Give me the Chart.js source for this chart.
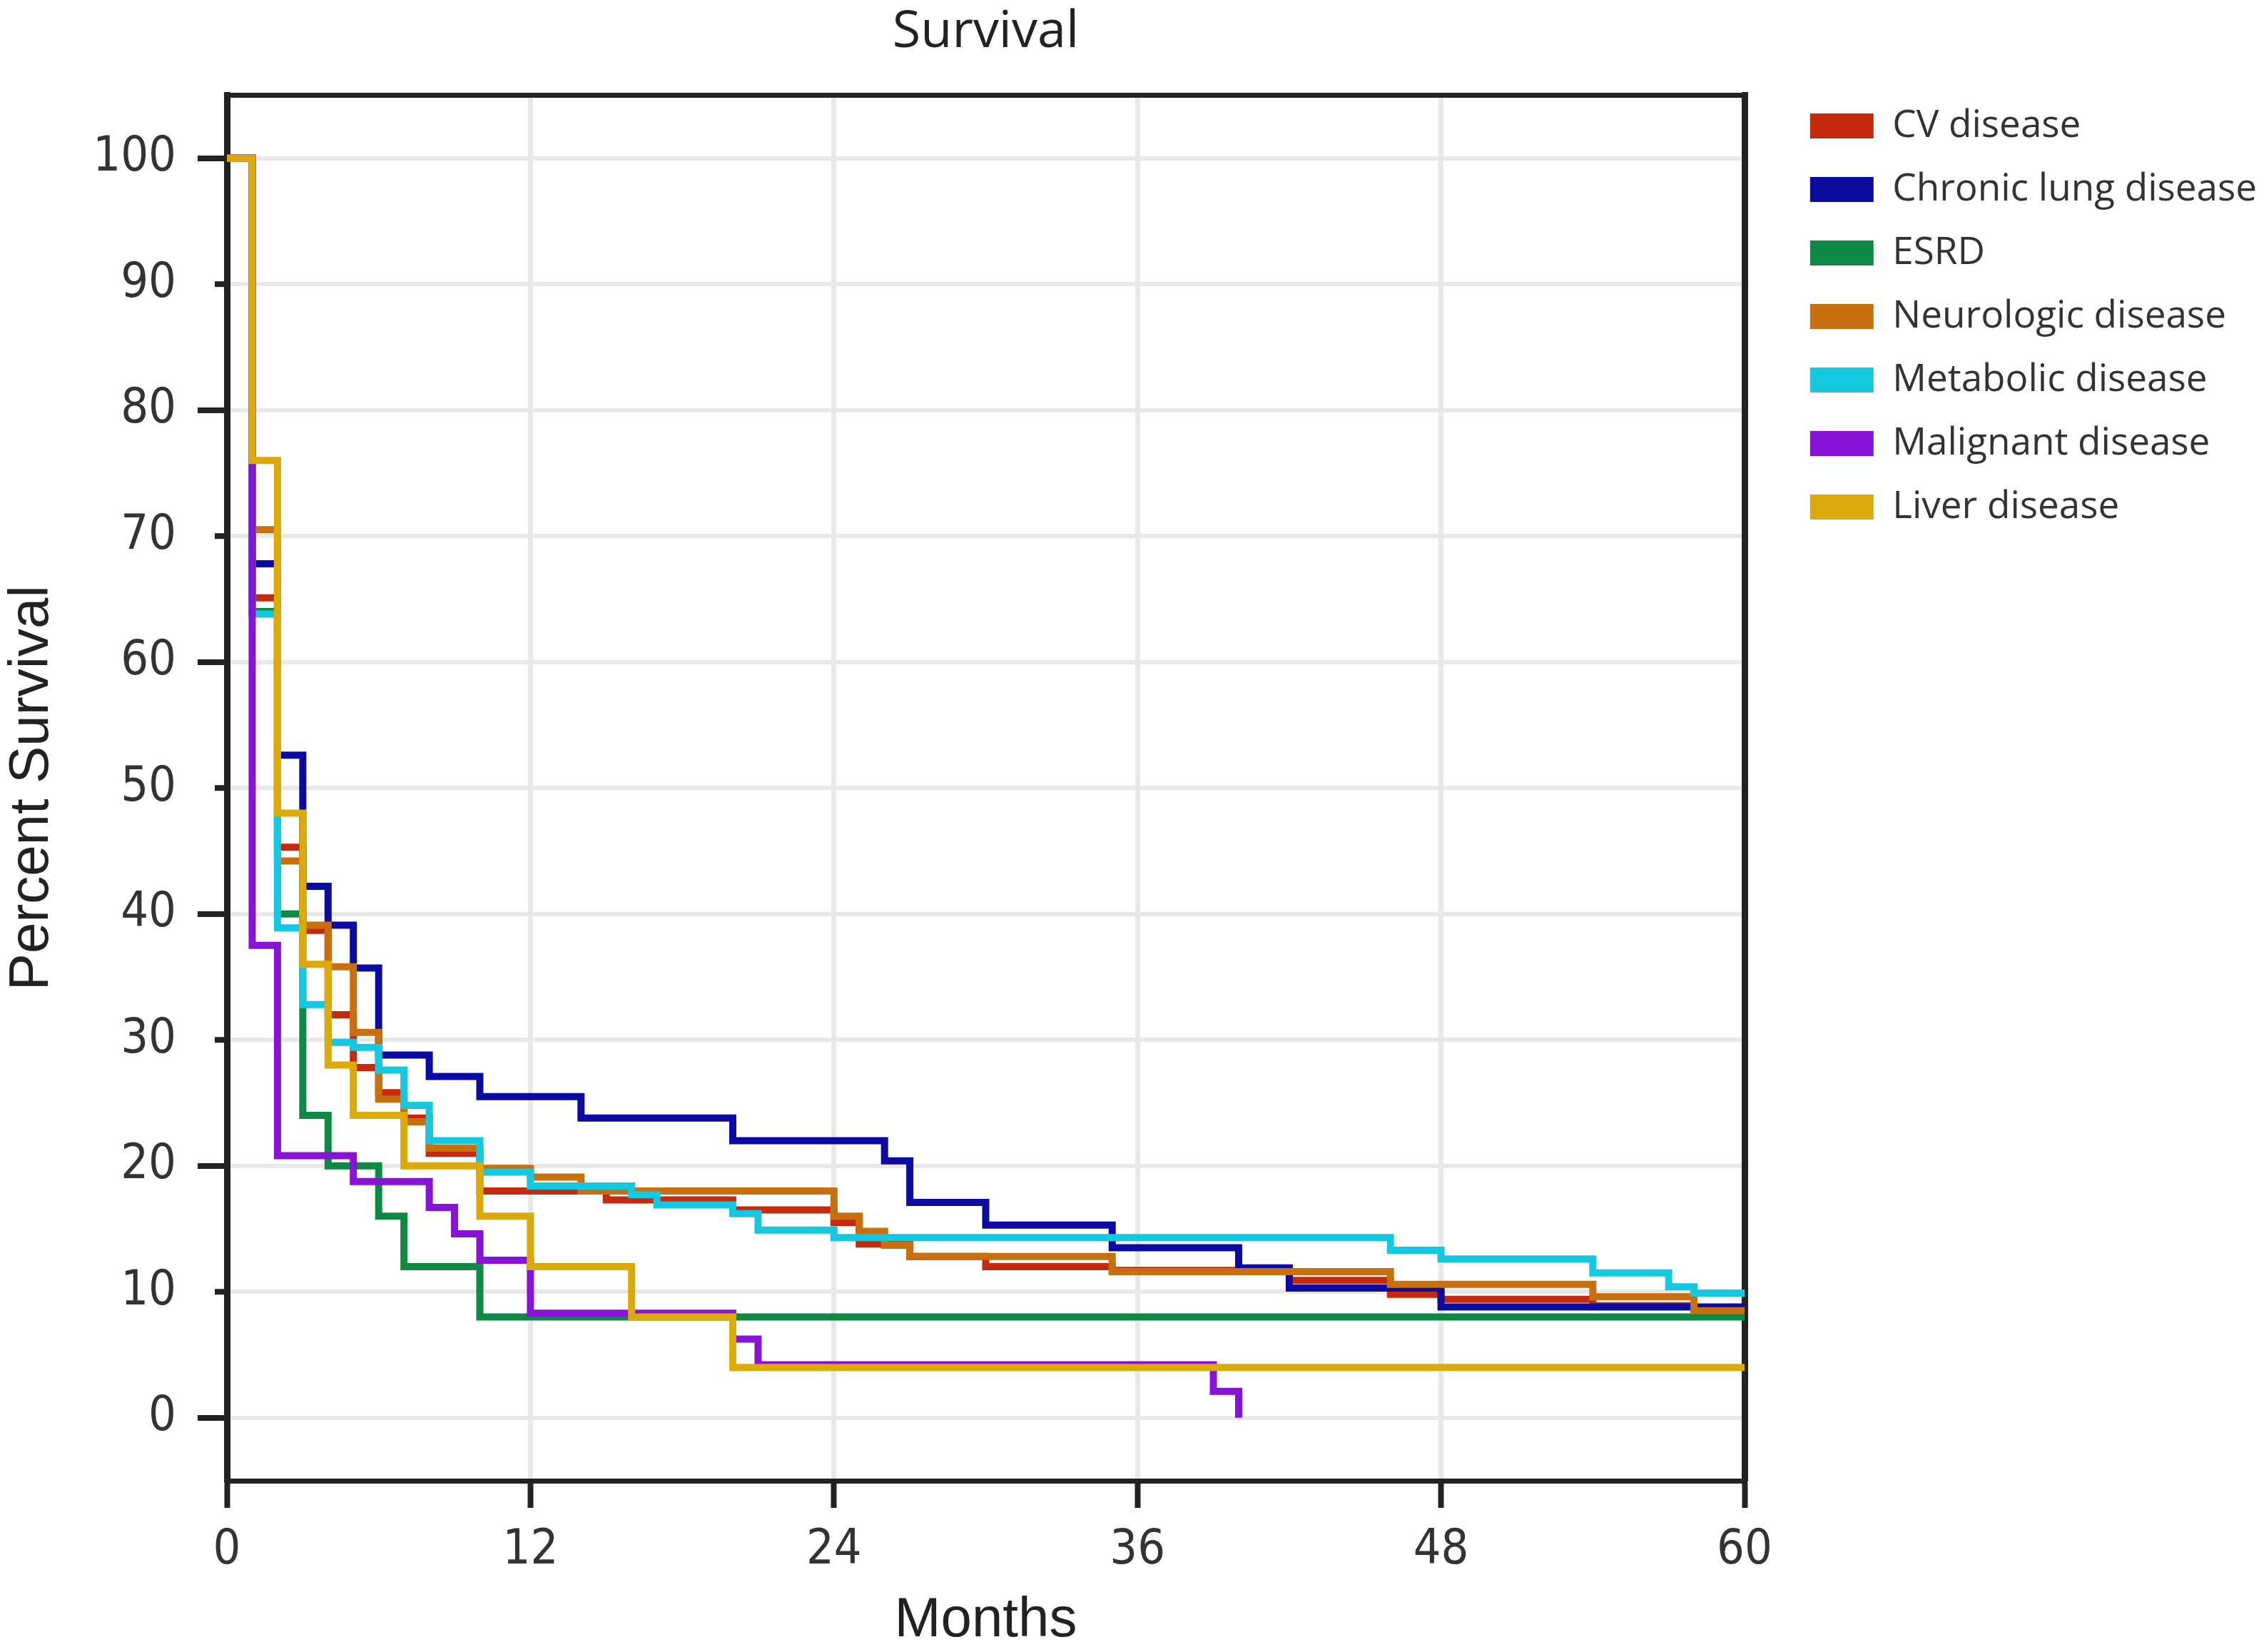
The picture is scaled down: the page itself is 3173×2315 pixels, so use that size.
<!DOCTYPE html>
<html>
<head>
<meta charset="utf-8">
<title>Survival</title>
<script src="https://cdn.jsdelivr.net/npm/chart.js@4.4.1/dist/chart.umd.min.js"></script>
<style>
  html, body { margin: 0; padding: 0; background: #fff; }
  canvas { display: block; }
</style>
</head>
<body>
<canvas id="survivalChart" width="3173" height="2315"></canvas>
<script>
// Kaplan-Meier steps: each value holds from its month until the next month
const cvMonths = [0, 1, 2, 3, 4, 5, 6, 7, 8, 10, 15, 20, 24, 25, 27, 30, 35, 42, 46, 48, 54, 58, 60];
const cvSurvival = [100, 65.1, 45.3, 38.7, 32.0, 27.8, 25.8, 23.8, 21.0, 18.0, 17.3, 16.5, 15.5, 13.8, 12.8, 12.0, 11.7, 10.9, 9.8, 9.4, 8.9, 8.5, 8.5];

const lungMonths = [0, 1, 2, 3, 4, 5, 6, 8, 10, 14, 20, 26, 27, 30, 35, 40, 42, 48, 60];
const lungSurvival = [100, 67.8, 52.6, 42.2, 39.1, 35.7, 28.8, 27.1, 25.5, 23.8, 22.0, 20.4, 17.1, 15.3, 13.5, 11.9, 10.3, 8.8, 8.8];

const esrdMonths = [0, 1, 2, 3, 4, 6, 7, 10, 60];
const esrdSurvival = [100, 64, 40, 24, 20, 16, 12, 8, 8];

const neuroMonths = [0, 1, 2, 3, 4, 5, 6, 7, 8, 10, 12, 14, 24, 25, 26, 27, 35, 46, 54, 58, 60];
const neuroSurvival = [100, 70.5, 44.2, 39.1, 35.8, 30.6, 25.3, 23.5, 21.4, 19.8, 19.1, 18.0, 16.0, 14.8, 13.7, 12.8, 11.6, 10.6, 9.6, 8.5, 8.5];

const metaMonths = [0, 1, 2, 3, 4, 5, 6, 7, 8, 10, 12, 16, 17, 20, 21, 24, 46, 48, 54, 57, 58, 60];
const metaSurvival = [100, 63.8, 38.9, 32.8, 29.8, 29.4, 27.6, 24.8, 22.0, 19.5, 18.4, 17.7, 16.9, 16.2, 14.9, 14.3, 13.3, 12.6, 11.5, 10.4, 9.9, 9.9];

const maligMonths = [0, 1, 2, 5, 8, 9, 10, 12, 20, 21, 39, 40];
const maligSurvival = [100, 37.5, 20.8, 18.75, 16.7, 14.6, 12.5, 8.3, 6.25, 4.2, 2.1, 0];

const liverMonths = [0, 1, 2, 3, 4, 5, 7, 10, 12, 16, 20, 60];
const liverSurvival = [100, 76, 48, 36, 28, 24, 20, 16, 12, 8, 4, 4];

const seriesNames = ['CV disease', 'Chronic lung disease', 'ESRD', 'Neurologic disease', 'Metabolic disease', 'Malignant disease', 'Liver disease'];
const seriesColors = ['#c62a0c', '#0b0ba0', '#0f8a45', '#c8700f', '#16c8df', '#8812d6', '#dba90a'];
const seriesMonths = [cvMonths, lungMonths, esrdMonths, neuroMonths, metaMonths, maligMonths, liverMonths];
const seriesSurvival = [cvSurvival, lungSurvival, esrdSurvival, neuroSurvival, metaSurvival, maligSurvival, liverSurvival];

const xTicks = [0, 12, 24, 36, 48, 60];
const yTicks = [0, 10, 20, 30, 40, 50, 60, 70, 80, 90, 100];

const CANVAS_W = 3173;
const PLOT_RIGHT = 2445;
const AXIS_COLOR = '#222';
const GRID_COLOR = '#e8e8e8';
const TICK_FONT = { family: "'DejaVu Sans Condensed', 'DejaVu Sans', sans-serif", size: 68, lineHeight: 1.2 };
const AXIS_TITLE_FONT = { family: "'Liberation Sans', Arial, sans-serif", size: 78, lineHeight: 1 };

// short ticks at the odd tens of the y axis (the even ones are drawn long by the scale)
const shortTicks = {
    id: 'shortTicks',
    beforeDatasetsDraw(chart) {
        const y = chart.scales.y;
        const ctx = chart.ctx;
        const left = chart.chartArea.left;
        ctx.save();
        ctx.strokeStyle = AXIS_COLOR;
        ctx.lineWidth = 8;
        yTicks.filter(v => v % 20 !== 0).forEach(v => {
            const py = y.getPixelForValue(v);
            ctx.beginPath();
            ctx.moveTo(left - 17, py);
            ctx.lineTo(left, py);
            ctx.stroke();
        });
        ctx.restore();
    }
};

const datasets = seriesNames.map((name, i) => ({
    label: name,
    data: seriesMonths[i].map((m, j) => ({ x: m, y: seriesSurvival[i][j] })),
    borderColor: seriesColors[i],
    backgroundColor: seriesColors[i],
    borderWidth: 10,
    stepped: 'before',
    pointRadius: 0,
    borderJoinStyle: 'miter',
    borderCapStyle: 'butt',
    fill: false,
    // later series on top, like the original
    order: seriesNames.length - i
}));

const ctx = document.getElementById('survivalChart').getContext('2d');
const chart = new Chart(ctx, {
    type: 'line',
    data: { datasets },
    options: {
        responsive: false,
        animation: false,
        devicePixelRatio: 1,
        layout: { padding: 0 },
        scales: {
            x: {
                type: 'linear',
                position: 'bottom',
                min: 0,
                max: 60,
                afterBuildTicks: s => { s.ticks = xTicks.map(v => ({ value: v })); },
                afterFit: s => { s.height = 240; },
                grid: { color: GRID_COLOR, lineWidth: 7, tickLength: 38, tickWidth: 8, tickColor: AXIS_COLOR },
                border: { color: AXIS_COLOR, width: 7 },
                ticks: { font: TICK_FONT, color: '#333', padding: 20, maxRotation: 0 },
                title: { display: true, text: 'Months', font: AXIS_TITLE_FONT, color: '#222', padding: { top: 0, bottom: 5 } }
            },
            y: {
                type: 'linear',
                position: 'left',
                min: -5,
                max: 105,
                afterBuildTicks: s => { s.ticks = yTicks.map(v => ({ value: v })); },
                afterFit: s => { s.width = 318; },
                grid: {
                    color: GRID_COLOR,
                    lineWidth: 6,
                    tickLength: 41,
                    tickWidth: 8,
                    tickColor: c => (c.tick && c.tick.value % 20 === 0) ? AXIS_COLOR : 'rgba(0,0,0,0)'
                },
                border: { color: AXIS_COLOR, width: 9 },
                ticks: { font: TICK_FONT, color: '#333', padding: 30 },
                title: { display: true, text: 'Percent Survival', font: AXIS_TITLE_FONT, color: '#222', padding: { top: 6, bottom: 0 } }
            },
            // frame: top and right edges of the plot box
            x2: {
                type: 'linear',
                position: 'top',
                afterFit: s => { s.height = 45; },
                grid: { display: false },
                ticks: { display: false },
                border: { color: AXIS_COLOR, width: 7 }
            },
            y2: {
                type: 'linear',
                position: 'right',
                // fills the gap between the plot box and the legend
                afterFit: s => { s.width = Math.max(0, CANVAS_W - s.chart.legend.width - PLOT_RIGHT); },
                grid: { display: false },
                ticks: { display: false },
                border: { color: AXIS_COLOR, width: 9 }
            }
        },
        plugins: {
            title: {
                display: true,
                text: 'Survival',
                fullSize: false,
                color: '#222',
                font: { family: "'Open Sans', 'Noto Sans', sans-serif", size: 72, weight: 'normal', lineHeight: 1.2 },
                padding: { top: 2, bottom: 0 }
            },
            legend: {
                position: 'right',
                align: 'start',
                maxWidth: 900,
                title: { display: true, text: ' ', font: { size: 10, lineHeight: 1 }, padding: { top: 104, bottom: 0 } },
                labels: {
                    boxWidth: 89,
                    boxHeight: 35,
                    padding: 36,
                    color: '#333',
                    font: { family: "'Open Sans', 'Noto Sans', sans-serif", size: 53 },
                    sort: (a, b) => a.datasetIndex - b.datasetIndex,
                    generateLabels: c => Chart.defaults.plugins.legend.labels.generateLabels(c).map(l => ({ ...l, lineWidth: 0 }))
                }
            },
            tooltip: { enabled: false }
        }
    },
    plugins: [shortTicks]
});
</script>
</body>
</html>
